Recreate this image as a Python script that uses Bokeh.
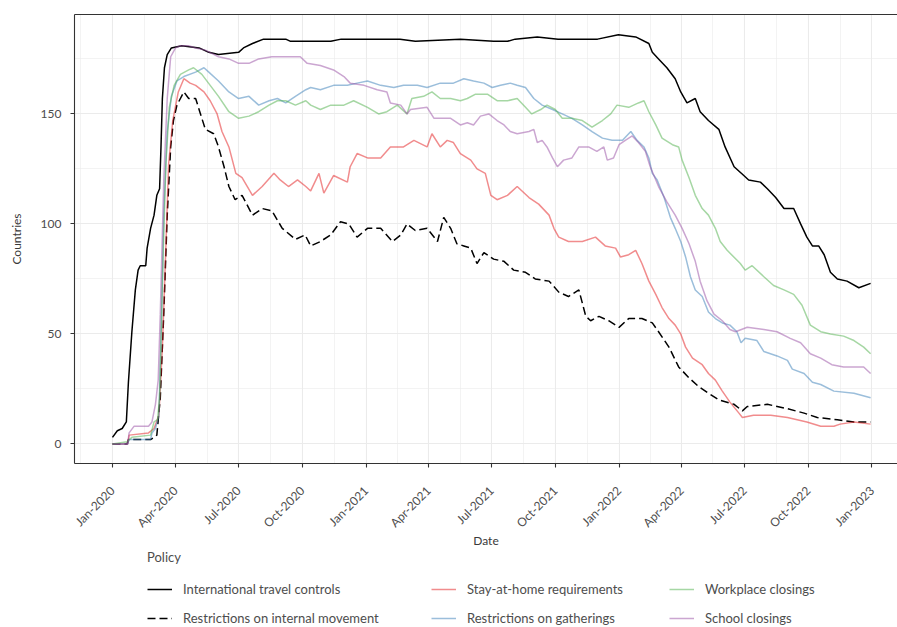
import math
import numpy as np
import pandas as pd
from bokeh.plotting import figure
from bokeh.layouts import column
from bokeh.models import (Range1d, FixedTicker, DatetimeTickFormatter, LinearAxis,
                          Legend, LegendItem)
from bokeh.embed import file_html
from bokeh.resources import INLINE

# ---------------- data (days since 2020-01-01, number of countries) ----------------
start = pd.Timestamp("2020-01-01")

itc_days = [0, 7, 14, 20, 23, 28, 33, 37, 40, 48, 50, 55, 60, 64, 68, 70, 72, 75, 79, 85, 100, 125, 139,
            153, 182, 189, 202, 218, 250, 257, 279, 300, 315, 330, 415, 437, 502, 550, 570, 581, 613, 643,
            700, 730, 755, 774, 779, 788, 800, 812, 820, 829, 841, 848, 860, 875, 884, 897, 911, 918, 935,
            945, 957, 969, 983, 993, 1002, 1010, 1019, 1027, 1036, 1046, 1060, 1077, 1094]
itc_vals = [3, 6, 7, 10, 28, 51, 70, 79, 81, 81, 89, 98, 104, 113, 116, 135, 157, 171, 177, 180, 181, 180, 178,
            177, 178, 180, 182, 184, 184, 183, 183, 183, 183, 184, 184, 183, 184, 183, 183, 184, 185, 184,
            184, 186, 185, 182, 178, 175, 171, 166, 160, 155, 157, 151, 147, 143, 135, 126, 122, 120, 119,
            116, 112, 107, 107, 100, 94, 90, 90, 86, 78, 75, 74, 71, 73]

rim_days = [0, 21, 23, 55, 60, 64, 69, 74, 79, 84, 88, 93, 103, 110, 120, 127, 134, 146, 153, 161, 168, 177,
            187, 202, 216, 230, 245, 264, 278, 286, 300, 315, 329, 341, 353, 368, 387, 404, 416, 425, 437,
            454, 469, 478, 488, 497, 507, 517, 526, 536, 550, 565, 579, 596, 610, 630, 644, 658, 673, 683,
            690, 702, 716, 731, 745, 764, 779, 788, 803, 817, 832, 846, 860, 875, 897, 909, 916, 945, 974,
            998, 1017, 1046, 1070, 1094]
rim_vals = [0, 0, 2, 2, 3, 4, 21, 59, 104, 135, 147, 154, 160, 157, 157, 150, 143, 141, 135, 126, 117, 111,
            113, 104, 107, 106, 98, 93, 95, 90, 92, 95, 101, 100, 94, 98, 98, 92, 95, 100, 97,
            98, 92, 103, 98, 91, 90, 89, 82, 87, 84, 83, 79, 78, 75, 74, 69, 67, 70, 58,
            56, 58, 56, 53, 57, 57, 55, 51, 44, 35, 30, 26, 23, 20, 18, 15, 17, 18, 16,
            14, 12, 11, 10, 10]

sah_days = [0, 22, 24, 52, 60, 67, 72, 77, 81, 87, 95, 103, 112, 120, 132, 141, 151, 158, 168, 178, 187, 202,
            216, 233, 242, 254, 267, 279, 286, 298, 305, 319, 339, 343, 353, 368, 387, 401, 420, 435, 454,
            461, 473, 483, 492, 502, 517, 526, 538, 546, 555, 570, 584, 601, 615, 630, 637, 644, 658, 678,
            697, 711, 726, 733, 745, 755, 764, 774, 784, 793, 803, 812, 820, 827, 837, 851, 860, 870, 880,
            891, 904, 909, 925, 950, 974, 1002, 1022, 1041, 1050, 1070, 1094]
sah_vals = [0, 0, 4, 5, 7, 13, 44, 89, 127, 147, 160, 166, 164, 163, 160, 156, 150, 142, 135, 123, 121, 113,
            117, 123, 120, 117, 120, 117, 115, 123, 114, 122, 119, 126, 132, 130, 130, 135, 135, 138, 135,
            141, 135, 138, 137, 132, 129, 125, 123, 113, 111, 113, 117, 112, 109, 104, 98, 94, 92, 92,
            94, 90, 89, 85, 86, 88, 82, 74, 68, 62, 57, 54, 50, 44, 39, 36, 32, 29, 24,
            19, 14, 12, 13, 13, 12, 10, 8, 8, 9, 10, 9]

gat_days = [0, 22, 24, 55, 57, 62, 67, 71, 74, 79, 85, 93, 103, 120, 132, 139, 153, 168, 182, 197, 211, 226,
            238, 250, 264, 279, 286, 300, 319, 339, 353, 368, 387, 406, 420, 440, 454, 473, 492, 507, 521,
            536, 548, 560, 574, 584, 596, 608, 620, 635, 649, 663, 678, 692, 707, 721, 736, 748, 757, 767,
            774, 779, 786, 796, 805, 812, 820, 827, 834, 841, 851, 860, 870, 880, 891, 901, 907, 913, 930,
            940, 959, 974, 981, 998, 1010, 1022, 1041, 1070, 1094]
gat_vals = [0, 0, 2, 2, 5, 7, 13, 59, 104, 142, 158, 165, 167, 169, 171, 169, 165, 160, 157, 158, 154, 156,
            157, 155, 158, 161, 162, 161, 163, 163, 164, 165, 163, 162, 163, 163, 162, 164, 164, 166, 165,
            164, 162, 163, 164, 163, 162, 157, 154, 152, 150, 148, 145, 142, 139, 138, 138, 142, 138, 135,
            130, 123, 120, 112, 103, 98, 92, 85, 76, 70, 67, 60, 57, 55, 54, 51, 46, 48, 47,
            42, 40, 38, 34, 32, 28, 27, 24, 23, 21]

wrk_days = [0, 21, 28, 55, 60, 65, 68, 72, 77, 82, 89, 98, 110, 117, 129, 141, 153, 168, 182, 197, 211, 226,
            238, 250, 264, 279, 286, 300, 315, 334, 348, 368, 384, 396, 411, 425, 432, 449, 461, 473, 488,
            502, 512, 524, 541, 555, 570, 584, 596, 605, 618, 627, 639, 649, 663, 678, 692, 707, 719, 728,
            745, 759, 767, 774, 784, 793, 808, 817, 822, 832, 841, 851, 860, 870, 877, 887, 906, 913, 923,
            940, 954, 969, 983, 995, 1007, 1022, 1036, 1055, 1070, 1084, 1094]
wrk_vals = [0, 1, 3, 4, 10, 11, 21, 74, 127, 153, 163, 168, 170, 171, 168, 163, 158, 151, 148, 149, 151, 154,
            156, 156, 154, 156, 154, 152, 154, 154, 156, 153, 150, 151, 154, 150, 157, 158, 160, 157, 157,
            156, 157, 159, 159, 156, 156, 157, 153, 150, 152, 154, 152, 148, 148, 147, 144, 147, 150, 154,
            153, 155, 156, 151, 145, 139, 136, 135, 129, 121, 113, 107, 104, 98, 92, 88, 82, 79, 81,
            76, 72, 70, 68, 63, 54, 51, 50, 49, 47, 44, 41]

sch_days = [0, 22, 24, 31, 52, 57, 62, 66, 69, 74, 79, 84, 91, 98, 110, 120, 134, 153, 168, 182, 197, 211,
            230, 254, 271, 281, 300, 319, 334, 343, 363, 382, 396, 401, 416, 425, 430, 454, 464, 473, 488,
            502, 512, 521, 531, 543, 555, 565, 574, 584, 601, 608, 613, 620, 627, 635, 642, 651, 663, 673,
            687, 699, 709, 714, 723, 731, 740, 750, 759, 769, 776, 788, 800, 812, 822, 832, 841, 848, 858,
            868, 880, 891, 899, 916, 940, 959, 978, 993, 1007, 1022, 1038, 1055, 1084, 1094]
sch_vals = [0, 0, 5, 8, 8, 10, 18, 29, 59, 120, 157, 176, 180, 181, 181, 180, 179, 176, 175, 173, 173, 175,
            176, 176, 176, 173, 172, 170, 167, 164, 163, 161, 160, 155, 154, 150, 152, 153, 148, 148, 148,
            145, 146, 145, 149, 150, 147, 145, 142, 141, 142, 143, 137, 138, 135, 130, 126, 129, 130, 135,
            135, 133, 135, 129, 130, 136, 138, 140, 137, 133, 126, 117, 110, 104, 98, 91, 83, 74, 65,
            59, 56, 52, 51, 53, 52, 51, 48, 46, 41, 39, 36, 35, 35, 32]

x_ticks = ["2020-01-01", "2020-04-01", "2020-07-01", "2020-10-01", "2021-01-01", "2021-04-01", "2021-07-01",
           "2021-10-01", "2022-01-01", "2022-04-01", "2022-07-01", "2022-10-01", "2023-01-01"]
y_ticks = [0, 50, 100, 150]

policies = ["International travel controls", "Restrictions on internal movement",
            "Stay-at-home requirements", "Restrictions on gatherings",
            "Workplace closings", "School closings"]

# ---------------- helpers ----------------
def to_dt(days):
    return start + pd.to_timedelta(np.asarray(days, dtype=float), unit="D")

def ms(ts):
    return pd.Timestamp(ts).value / 1e6

FONT = "Lato"
GRID = "#ebebeb"
AXC = "#333333"
TXT = "#4d4d4d"

styles = [dict(line_color="black", line_width=1.5),
          dict(line_color="black", line_width=1.5, line_dash="8 4"),
          dict(line_color="#E41A1C", line_alpha=0.5, line_width=1.5),
          dict(line_color="#377EB8", line_alpha=0.5, line_width=1.5),
          dict(line_color="#4DAF4A", line_alpha=0.5, line_width=1.5),
          dict(line_color="#984EA3", line_alpha=0.5, line_width=1.5)]

p = figure(width=897, height=550, x_axis_type="datetime", output_backend="svg",
           toolbar_location=None, min_border_left=74, min_border_right=0,
           min_border_top=14, min_border_bottom=87,
           x_range=Range1d(ms(start - pd.Timedelta(days=54.8)), ms(start + pd.Timedelta(days=1132.8))),
           y_range=Range1d(-8.9, 195.2))
p.outline_line_color = None
p.background_fill_color = "white"
p.border_fill_color = "white"

# ticks and grid
major_x = [ms(t) for t in x_ticks]
minor_x = [ms("2019-11-16")] + [(a + b) / 2 for a, b in zip(major_x[:-1], major_x[1:])] + [ms("2023-02-15")]
xt = FixedTicker(ticks=major_x, minor_ticks=minor_x)
yt = FixedTicker(ticks=y_ticks, minor_ticks=[-25, 25, 75, 125, 175])
p.xaxis.ticker = xt
p.yaxis.ticker = yt
p.xgrid.ticker = xt
p.ygrid.ticker = yt
for g in (p.xgrid[0], p.ygrid[0]):
    g.grid_line_color = GRID
    g.grid_line_width = 1.1
    g.minor_grid_line_color = GRID
    g.minor_grid_line_width = 0.6

fmt = "%b-%Y"
p.xaxis.formatter = DatetimeTickFormatter(microseconds=fmt, milliseconds=fmt, seconds=fmt, minsec=fmt,
                                          minutes=fmt, hourmin=fmt, hours=fmt, days=fmt, months=fmt, years=fmt)
p.xaxis.major_label_orientation = math.pi / 4

for ax in (p.xaxis[0], p.yaxis[0]):
    ax.axis_line_color = AXC
    ax.axis_line_width = 1.1
    ax.major_tick_line_color = AXC
    ax.major_tick_line_width = 1.1
    ax.major_tick_out = 4
    ax.major_tick_in = 0
    ax.minor_tick_line_color = None
    ax.major_label_text_font = FONT
    ax.major_label_text_font_size = "12px"
    ax.major_label_text_color = TXT
    ax.axis_label_text_font = FONT
    ax.axis_label_text_font_size = "12px"
    ax.axis_label_text_font_style = "normal"
    ax.axis_label_text_color = "#3a3a3a"

p.yaxis.axis_label = "Countries"
p.yaxis.major_label_standoff = 9
p.yaxis.axis_label_standoff = 14
p.xaxis.axis_label = "Date"
p.xaxis.major_label_standoff = 21
p.xaxis.axis_label_standoff = -6

top = LinearAxis(ticker=FixedTicker(ticks=[]), axis_line_color=AXC, axis_line_width=1.1,
                 major_tick_out=0, major_tick_in=0, minor_tick_out=0, minor_tick_in=0,
                 major_label_text_font_size="0px", major_label_standoff=0)
p.add_layout(top, "above")

# ---------------- lines ----------------
series = [(itc_days, itc_vals), (rim_days, rim_vals), (sah_days, sah_vals),
          (gat_days, gat_vals), (wrk_days, wrk_vals), (sch_days, sch_vals)]
for (d, v), st in zip(series, styles):
    p.line(to_dt(d), v, **st)

# ---------------- legend (separate strip below the plot) ----------------
lf = figure(width=897, height=77, output_backend="svg", toolbar_location=None,
            x_range=Range1d(0, 1), y_range=Range1d(0, 1),
            x_axis_location=None, y_axis_location=None,
            min_border_left=0, min_border_right=0, min_border_top=0, min_border_bottom=0)
lf.outline_line_color = None
lf.xgrid.visible = False
lf.ygrid.visible = False
lf.background_fill_color = "white"
lf.border_fill_color = "white"

# key-only renderers (no visible data), used for the legend swatches
key_renderers = [lf.line(x=[np.nan], y=[np.nan], **st) for st in styles]

def make_legend(idx, x, title=None):
    lg = Legend(items=[LegendItem(label=policies[i], renderers=[key_renderers[i]]) for i in idx],
                location=(x, 1), orientation="vertical",
                label_text_font=FONT, label_text_font_size="13px", label_text_color=TXT,
                glyph_width=25, glyph_height=16, label_standoff=11, spacing=13,
                padding=0, margin=0, border_line_color=None, background_fill_alpha=0)
    if title:
        lg.title = title
        lg.title_text_font = FONT
        lg.title_text_font_size = "13px"
        lg.title_text_font_style = "normal"
        lg.title_text_color = TXT
        lg.title_standoff = 16
    lf.add_layout(lg, "center")

make_legend([0, 1], 73, title="Policy")
make_legend([2, 3], 357)
make_legend([4, 5], 595)

open("out.html", "w").write(file_html(column(p, lf, spacing=0), INLINE))
